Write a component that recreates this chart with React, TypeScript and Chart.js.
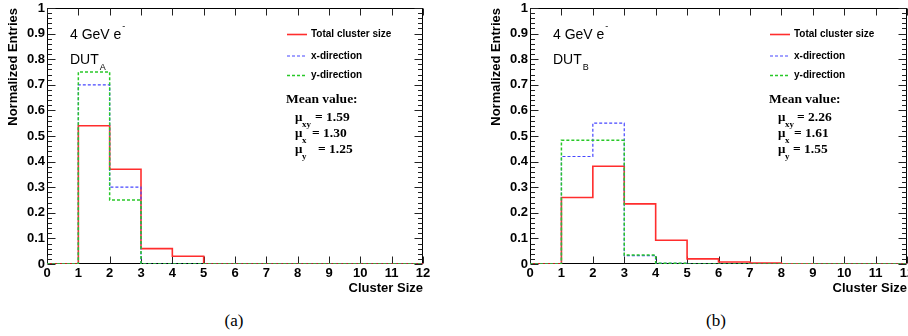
import React, { useEffect, useRef } from "react";
import { Chart, registerables } from "chart.js";

Chart.register(...registerables);

// ---- data ----
const binEdges = [0, 1, 2, 3, 4, 5, 6, 7, 8, 9, 10, 11, 12];
const xTickValues = [0, 1, 2, 3, 4, 5, 6, 7, 8, 9, 10, 11, 12];
const yTickValues = [0, 0.1, 0.2, 0.3, 0.4, 0.5, 0.6, 0.7, 0.8, 0.9, 1];

const totalA = [0, 0.54, 0.37, 0.06, 0.03, 0, 0, 0, 0, 0, 0, 0];
const xDirA = [0, 0.70, 0.30, 0, 0, 0, 0, 0, 0, 0, 0, 0];
const yDirA = [0, 0.75, 0.25, 0, 0, 0, 0, 0, 0, 0, 0, 0];

const totalB = [0, 0.26, 0.382, 0.235, 0.093, 0.02, 0.008, 0.004, 0.001, 0, 0, 0];
const xDirB = [0, 0.42, 0.55, 0.033, 0.003, 0, 0, 0, 0, 0, 0, 0];
const yDirB = [0, 0.483, 0.483, 0.035, 0.003, 0, 0, 0, 0, 0, 0, 0];

const legendLabels = ["Total cluster size", "x-direction", "y-direction"];
const meanLabels = ["xy", "x", "y"];
const meansA = ["1.59", "1.30", "1.25"];
const meansB = ["2.26", "1.61", "1.55"];

const SANS = "'Liberation Sans', Arial, Helvetica, sans-serif";
const SERIF = "'Liberation Serif', 'Times New Roman', Times, serif";

const RED = "rgb(255,45,45)";
const BLUE = "rgb(70,70,255)";
const GREEN = "rgb(40,200,40)";

function toSteps(vals: number[]) {
  const pts = vals.map((v, i) => ({ x: binEdges[i], y: v }));
  pts.push({ x: binEdges[binEdges.length - 1], y: vals[vals.length - 1] });
  return pts;
}

const framePlugin = {
  id: "rootFrame",
  beforeDatasetsDraw(chart: any) {
    const { ctx, chartArea: ca, scales } = chart;
    const x = scales.x;
    const y = scales.y;
    ctx.save();
    ctx.lineWidth = 1;
    ctx.strokeStyle = "#000";
    const L = Math.round(ca.left) + 0.5;
    const R = Math.round(ca.right) - 0.5;
    const T = Math.round(ca.top) + 0.5;
    const B = Math.round(ca.bottom) - 0.5;
    ctx.strokeRect(L, T, R - L, B - T);
    ctx.strokeStyle = "#222";
    ctx.beginPath();
    for (let i = 0; i <= 50; i++) {
      const py = Math.round(y.getPixelForValue(i / 50)) + 0.5;
      const len = i % 5 === 0 ? 8 : 4.5;
      ctx.moveTo(L, py);
      ctx.lineTo(L + len, py);
      ctx.moveTo(R, py);
      ctx.lineTo(R - len, py);
    }
    for (const v of xTickValues) {
      const px = Math.round(x.getPixelForValue(v)) + 0.5;
      ctx.moveTo(px, B);
      ctx.lineTo(px, B - 7);
      ctx.moveTo(px, T);
      ctx.lineTo(px, T + 7);
    }
    ctx.stroke();
    ctx.restore();
  },
};

function makeAnnotPlugin(dut: string, means: string[], eqOffsets: number[]) {
  return {
    id: "annot",
    afterDraw(chart: any) {
      const { ctx, chartArea: ca } = chart;
      const ox = ca.left;
      ctx.save();
      ctx.fillStyle = "#000";
      ctx.textBaseline = "middle";
      ctx.textAlign = "left";
      // energy
      ctx.font = `14px ${SANS}`;
      ctx.fillText("4 GeV e", ox + 23, 35);
      const w1 = ctx.measureText("4 GeV e").width;
      ctx.font = `9px ${SANS}`;
      ctx.fillText("-", ox + 24 + w1, 27);
      // DUT
      ctx.font = `14px ${SANS}`;
      ctx.fillText("DUT", ox + 23, 60);
      const w2 = ctx.measureText("DUT").width;
      ctx.font = `9px ${SANS}`;
      ctx.fillText(dut, ox + 23 + w2 + 1, 68);
      // legend
      const styles = [
        { c: RED, d: [], w: 1.6 },
        { c: BLUE, d: [3, 2], w: 1.2 },
        { c: GREEN, d: [3, 2], w: 1.5 },
      ];
      const ly = [34.5, 56, 75.5];
      for (let i = 0; i < 3; i++) {
        ctx.beginPath();
        ctx.strokeStyle = styles[i].c;
        ctx.lineWidth = styles[i].w;
        ctx.setLineDash(styles[i].d);
        ctx.moveTo(ox + 240, ly[i]);
        ctx.lineTo(ox + 260, ly[i]);
        ctx.stroke();
        ctx.setLineDash([]);
        ctx.font = `bold 10px ${SANS}`;
        ctx.fillText(legendLabels[i], ox + 264, ly[i]);
      }
      // mean values
      ctx.font = `bold 13.5px ${SERIF}`;
      ctx.fillText("Mean value:", ox + 239, 100);
      const my = [118, 134, 150];
      for (let i = 0; i < 3; i++) {
        ctx.font = `bold 13px ${SERIF}`;
        ctx.fillText("\u03bc", ox + 248, my[i]);
        ctx.font = `bold 9px ${SERIF}`;
        ctx.fillText(meanLabels[i], ox + 255, my[i] + 7);
        ctx.font = `bold 13.5px ${SERIF}`;
        ctx.fillText("= " + means[i], ox + eqOffsets[i], my[i]);
      }
      ctx.restore();
    },
  };
}

type PanelProps = {
  left: number;
  padLeft: number;
  padRight: number;
  total: number[];
  xdir: number[];
  ydir: number[];
  dut: string;
  means: string[];
  eqOffsets: number[];
};

function Panel(p: PanelProps) {
  const ref = useRef<HTMLCanvasElement>(null);
  useEffect(() => {
    const canvas = ref.current!;
    const chart = new Chart(canvas, {
      type: "line",
      data: {
        datasets: [
          {
            data: toSteps(p.ydir),
            borderColor: GREEN,
            borderWidth: 1.5,
            borderDash: [3, 2],
            stepped: "before",
            pointRadius: 0,
            fill: false,
          },
          {
            data: toSteps(p.xdir),
            borderColor: BLUE,
            borderWidth: 1.2,
            borderDash: [3, 2],
            stepped: "before",
            pointRadius: 0,
            fill: false,
          },
          {
            data: toSteps(p.total),
            borderColor: RED,
            borderWidth: 1.6,
            stepped: "before",
            pointRadius: 0,
            fill: false,
          },
        ],
      },
      options: {
        animation: false,
        responsive: false,
        devicePixelRatio: 1,
        events: [],
        layout: { padding: { left: p.padLeft, right: p.padRight, top: 8, bottom: 0 } },
        plugins: { legend: { display: false }, tooltip: { enabled: false } },
        scales: {
          x: {
            type: "linear",
            min: 0,
            max: 12,
            afterBuildTicks: (s: any) => {
              s.ticks = xTickValues.map((v) => ({ value: v }));
            },
            afterFit: (s: any) => {
              s.height = 36;
              s.paddingLeft = 0;
              s.paddingRight = 0;
            },
            ticks: {
              color: "#000",
              font: { family: SANS, size: 13, weight: "bold" },
              padding: 2,
              maxRotation: 0,
              autoSkip: false,
              callback: (v: any) => String(v),
            },
            grid: { display: false, drawTicks: false },
            border: { display: false },
            title: {
              display: true,
              text: "Cluster Size",
              align: "end",
              color: "#000",
              font: { family: SANS, size: 13, weight: "bold" },
              padding: { top: 0, bottom: 4 },
            },
          },
          y: {
            type: "linear",
            min: 0,
            max: 1,
            afterBuildTicks: (s: any) => {
              s.ticks = yTickValues.map((v) => ({ value: v }));
            },
            afterFit: (s: any) => {
              s.width = 47;
              s.paddingTop = 0;
              s.paddingBottom = 0;
            },
            ticks: {
              color: "#000",
              font: { family: SANS, size: 13, weight: "bold" },
              padding: 2,
              callback: (v: any) => (v === 0 ? "0" : v === 1 ? "1" : Number(v).toFixed(1)),
            },
            grid: { display: false, drawTicks: false },
            border: { display: false },
            title: {
              display: true,
              text: "Normalized Entries",
              align: "end",
              color: "#000",
              font: { family: SANS, size: 13, weight: "bold" },
              padding: { top: 6, bottom: 0 },
            },
          },
        },
      },
      plugins: [framePlugin, makeAnnotPlugin(p.dut, p.means, p.eqOffsets)],
    } as any);
    return () => chart.destroy();
  }, []);
  return (
    <canvas
      ref={ref}
      width={454}
      height={300}
      style={{ position: "absolute", left: p.left, top: 0, width: 454, height: 300 }}
    />
  );
}

export default function App() {
  return (
    <div
      style={{
        position: "fixed",
        left: 0,
        top: 0,
        width: 908,
        height: 336,
        background: "#fff",
        overflow: "hidden",
      }}
    >
      <Panel
        left={0}
        padLeft={0}
        padRight={31}
        total={totalA}
        xdir={xDirA}
        ydir={yDirA}
        dut="A"
        means={meansA}
        eqOffsets={[268, 265, 271]}
      />
      <Panel
        left={454}
        padLeft={29}
        padRight={1}
        total={totalB}
        xdir={xDirB}
        ydir={yDirB}
        dut="B"
        means={meansB}
        eqOffsets={[267, 264, 263]}
      />
      <div
        style={{
          position: "absolute",
          left: 234,
          top: 321,
          transform: "translate(-50%, -50%)",
          font: `17px ${SERIF}`,
          color: "#000",
        }}
      >
        (a)
      </div>
      <div
        style={{
          position: "absolute",
          left: 716,
          top: 321,
          transform: "translate(-50%, -50%)",
          font: `17px ${SERIF}`,
          color: "#000",
        }}
      >
        (b)
      </div>
    </div>
  );
}
